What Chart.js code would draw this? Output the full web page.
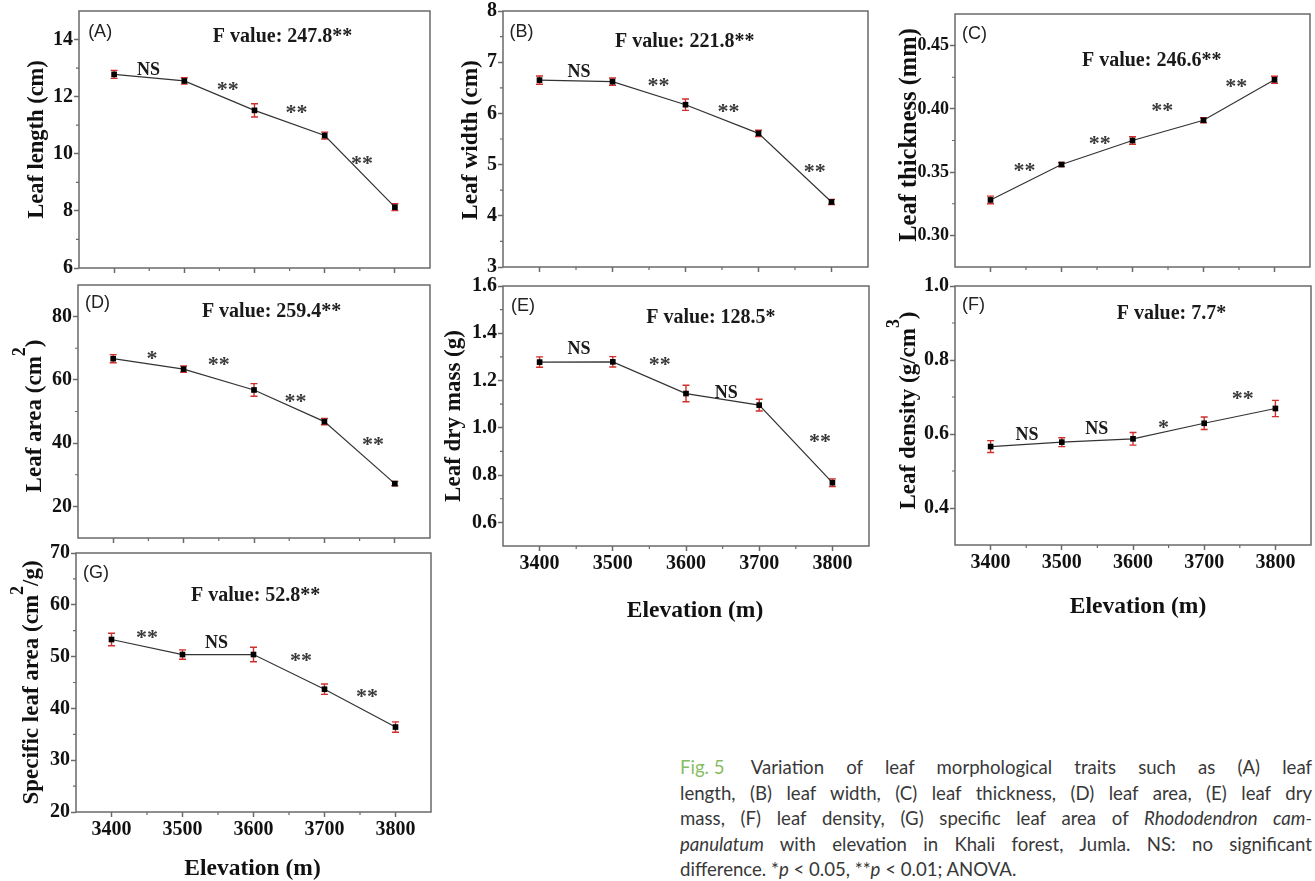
<!DOCTYPE html>
<html>
<head>
<meta charset="utf-8">
<script src="https://cdn.jsdelivr.net/npm/chart.js@4.4.1/dist/chart.umd.min.js"></script>
<style>
html,body{margin:0;padding:0;background:#fff;width:1315px;height:881px;overflow:hidden;position:relative}
canvas{position:absolute}
#cap{position:absolute;left:680px;top:755px;width:632px;font-family:Lato,"Open Sans",sans-serif;font-size:18.6px;line-height:25.5px;color:#383838}
#cap .ln{white-space:nowrap}
#cap .fig{color:#86bd62;word-spacing:0}
</style>
</head>
<body>
<div id="cap">
<div class="ln"><span class="fig">Fig. 5&nbsp;</span> Variation of leaf morphological traits such as (A) leaf</div>
<div class="ln">length, (B) leaf width, (C) leaf thickness, (D) leaf area, (E) leaf dry</div>
<div class="ln">mass, (F) leaf density, (G) specific leaf area of <i>Rhododendron cam-</i></div>
<div class="ln"><i>panulatum</i> with elevation in Khali forest, Jumla. NS: no significant</div>
<div class="ln last">difference. *<i>p</i> &lt; 0.05, **<i>p</i> &lt; 0.01; ANOVA.</div>
</div>
<script>
// ---------------- DATA ----------------
const elevation = [3400, 3500, 3600, 3700, 3800];
const xTickValues = [3400, 3500, 3600, 3700, 3800];
const xTickLabels = ['3400', '3500', '3600', '3700', '3800'];
const xMinorTicks = [3450, 3550, 3650, 3750];

const leafLength = [12.78, 12.55, 11.52, 10.64, 8.13];
const leafLengthErr = [0.14, 0.11, 0.23, 0.12, 0.12];
const leafLengthTicks = [6, 8, 10, 12, 14];
const leafLengthTickLabels = ['6', '8', '10', '12', '14'];
const leafLengthMinor = [7, 9, 11, 13];

const leafWidth = [6.65, 6.62, 6.17, 5.61, 4.27];
const leafWidthErr = [0.08, 0.07, 0.11, 0.06, 0.05];
const leafWidthTicks = [3, 4, 5, 6, 7, 8];
const leafWidthTickLabels = ['3', '4', '5', '6', '7', '8'];
const leafWidthMinor = [3.5, 4.5, 5.5, 6.5, 7.5];

const leafThickness = [0.328, 0.356, 0.375, 0.391, 0.423];
const leafThicknessErr = [0.003, 0.0016, 0.003, 0.002, 0.0028];
const leafThicknessTicks = [0.30, 0.35, 0.40, 0.45];
const leafThicknessTickLabels = ['0.30', '0.35', '0.40', '0.45'];
const leafThicknessMinor = [0.325, 0.375, 0.425];

const leafArea = [66.7, 63.4, 56.8, 46.8, 27.2];
const leafAreaErr = [1.3, 1.0, 2.0, 1.0, 0.7];
const leafAreaTicks = [20, 40, 60, 80];
const leafAreaTickLabels = ['20', '40', '60', '80'];
const leafAreaMinor = [30, 50, 70];

const leafDryMass = [1.278, 1.279, 1.145, 1.096, 0.768];
const leafDryMassErr = [0.022, 0.022, 0.035, 0.025, 0.016];
const leafDryMassTicks = [0.6, 0.8, 1.0, 1.2, 1.4, 1.6];
const leafDryMassTickLabels = ['0.6', '0.8', '1.0', '1.2', '1.4', '1.6'];
const leafDryMassMinor = [0.7, 0.9, 1.1, 1.3, 1.5];

const leafDensity = [0.566, 0.578, 0.587, 0.629, 0.669];
const leafDensityErr = [0.016, 0.012, 0.017, 0.017, 0.022];
const leafDensityTicks = [0.4, 0.6, 0.8, 1.0];
const leafDensityTickLabels = ['0.4', '0.6', '0.8', '1.0'];
const leafDensityMinor = [0.5, 0.7, 0.9];

const specificLeafArea = [53.3, 50.4, 50.4, 43.7, 36.4];
const specificLeafAreaErr = [1.2, 0.9, 1.4, 1.0, 1.0];
const slaTicks = [20, 30, 40, 50, 60, 70];
const slaTickLabels = ['20', '30', '40', '50', '60', '70'];
const slaMinor = [25, 35, 45, 55, 65];

// ---------------- STYLE / LAYOUT ----------------
const RED = '#d02f2b', AX = '#6a6a6a', LINE = '#333', TXT = '#111';
const SERIF = '"Liberation Serif","Times New Roman",serif';
const SANS = '"Liberation Sans",Arial,sans-serif';
const PT = 16, PR = 6;

const panels = [
  { area:{l:79,t:11,r:430,b:268}, cl:0, showX:false, ymin:6, ymax:15, yfs:20,
    values:leafLength, err:leafLengthErr, ticks:leafLengthTicks, labels:leafLengthTickLabels, minor:leafLengthMinor,
    title:[{t:'Leaf length (cm)'}], tdx:-36.3, tdy:0, tsize:22.5,
    notes:[{t:'(A)',x:3363,y:14.3,sans:true},{t:'F value: 247.8**',x:3640,y:14.13},{t:'NS',x:3449,y:12.98},
           {t:'**',x:3562,y:12.4},{t:'**',x:3660,y:11.58},{t:'**',x:3753,y:9.79}] },
  { area:{l:503,t:11,r:868,b:267}, cl:430, showX:false, ymin:3, ymax:8, yfs:20,
    values:leafWidth, err:leafWidthErr, ticks:leafWidthTicks, labels:leafWidthTickLabels, minor:leafWidthMinor,
    title:[{t:'Leaf width (cm)'}], tdx:-26, tdy:1, tsize:23.4,
    notes:[{t:'(B)',x:3359,y:7.61,sans:true},{t:'F value: 221.8**',x:3599,y:7.43},{t:'NS',x:3454,y:6.82},
           {t:'**',x:3563,y:6.62},{t:'**',x:3659,y:6.12},{t:'**',x:3777,y:4.95}] },
  { area:{l:955,t:14,r:1310,b:267}, cl:870, showX:false, ymin:0.275, ymax:0.475, yfs:18,
    values:leafThickness, err:leafThicknessErr, ticks:leafThicknessTicks, labels:leafThicknessTickLabels, minor:leafThicknessMinor,
    title:[{t:'Leaf thickness (mm)'}], tdx:-39, tdy:-5.5, tsize:24.5,
    notes:[{t:'(C)',x:3360,y:0.4607,sans:true},{t:'F value: 246.6**',x:3627,y:0.4394},
           {t:'**',x:3448,y:0.3545},{t:'**',x:3554,y:0.3757},{t:'**',x:3642,y:0.4017},{t:'**',x:3746,y:0.4209}] },
  { area:{l:78,t:285,r:430,b:538}, cl:0, showX:false, ymin:10, ymax:90, yfs:20,
    values:leafArea, err:leafAreaErr, ticks:leafAreaTicks, labels:leafAreaTickLabels, minor:leafAreaMinor,
    title:[{t:'Leaf area (cm'},{t:'2',sup:true},{t:')'}], tdx:-37.5, tdy:4.5, tsize:23,
    notes:[{t:'(D)',x:3360,y:84.75,sans:true},{t:'F value: 259.4**',x:3625,y:82.1},{t:'*',x:3455,y:67.9},
           {t:'**',x:3550,y:66.05},{t:'**',x:3659,y:54.3},{t:'**',x:3769,y:40.9}] },
  { area:{l:503,t:286,r:869,b:546}, cl:430, showX:true, ymin:0.5, ymax:1.6, yfs:20,
    values:leafDryMass, err:leafDryMassErr, ticks:leafDryMassTicks, labels:leafDryMassTickLabels, minor:leafDryMassMinor,
    title:[{t:'Leaf dry mass (g)'}], tdx:-42.7, tdy:0, tsize:23, xdx:9, xdy:70.7,
    notes:[{t:'(E)',x:3361,y:1.52,sans:true},{t:'F value: 128.5*',x:3634,y:1.473},{t:'NS',x:3454,y:1.336},
           {t:'**',x:3564,y:1.286},{t:'NS',x:3655,y:1.15},{t:'**',x:3783,y:0.961}] },
  { area:{l:955,t:286,r:1311,b:545}, cl:870, showX:true, ymin:0.3, ymax:1.0, yfs:20,
    values:leafDensity, err:leafDensityErr, ticks:leafDensityTicks, labels:leafDensityTickLabels, minor:leafDensityMinor,
    title:[{t:'Leaf density (g/cm'},{t:'3',sup:true},{t:')'}], tdx:-40, tdy:-5, tsize:23, xdx:5, xdy:68.3,
    notes:[{t:'(F)',x:3360,y:0.953,sans:true},{t:'F value: 7.7*',x:3654,y:0.93},{t:'NS',x:3451,y:0.601},
           {t:'NS',x:3549,y:0.615},{t:'*',x:3643,y:0.628},{t:'**',x:3754,y:0.708}] },
  { area:{l:76,t:553,r:431,b:812}, cl:0, showX:true, ymin:20, ymax:70, yfs:20,
    values:specificLeafArea, err:specificLeafAreaErr, ticks:slaTicks, labels:slaTickLabels, minor:slaMinor,
    title:[{t:'Specific leaf area (cm'},{t:'2',sup:true},{t:'/g)'}], tdx:-37.7, tdy:0, tsize:23, xdx:-1, xdy:63,
    notes:[{t:'(G)',x:3360,y:66.4,sans:true},{t:'F value: 52.8**',x:3603,y:62.1},{t:'**',x:3450,y:54.4},
           {t:'NS',x:3548,y:52.9},{t:'**',x:3667,y:50.0},{t:'**',x:3760,y:43.0}] }
];

function makePlugin(p) {
  return {
    id: 'panelDeco',
    beforeDatasetsDraw(chart) {
      const ctx = chart.ctx, xs = chart.scales.x, ys = chart.scales.y;
      ctx.save();
      ctx.strokeStyle = RED; ctx.lineWidth = 1.4;
      p.values.forEach((v, i) => {
        const x = xs.getPixelForValue(elevation[i]);
        const yt = ys.getPixelForValue(v + p.err[i]), yb = ys.getPixelForValue(v - p.err[i]);
        ctx.beginPath();
        ctx.moveTo(x, yt); ctx.lineTo(x, yb);
        ctx.moveTo(x - 3.5, yt); ctx.lineTo(x + 3.5, yt);
        ctx.moveTo(x - 3.5, yb); ctx.lineTo(x + 3.5, yb);
        ctx.stroke();
      });
      ctx.restore();
    },
    afterDraw(chart) {
      const ctx = chart.ctx, xs = chart.scales.x, ys = chart.scales.y, a = chart.chartArea;
      ctx.save();
      ctx.strokeStyle = AX; ctx.lineWidth = 1.5;
      ctx.strokeRect(a.left, a.top, a.right - a.left, a.bottom - a.top);
      ctx.lineWidth = 1.2;
      ctx.beginPath();
      xMinorTicks.forEach(v => { const x = xs.getPixelForValue(v); ctx.moveTo(x, a.bottom); ctx.lineTo(x, a.bottom + 3); });
      p.minor.forEach(v => { const y = ys.getPixelForValue(v); ctx.moveTo(a.left, y); ctx.lineTo(a.left - 3, y); });
      ctx.stroke();
      const size = p.tsize;
      const mainF = `bold ${size}px ${SERIF}`, supF = `bold ${(size * 0.78).toFixed(1)}px ${SERIF}`;
      let total = 0;
      p.title.forEach(t => { ctx.font = t.sup ? supF : mainF; t.w = ctx.measureText(t.t).width; total += t.w; });
      ctx.save();
      ctx.translate(a.left + p.tdx, (a.top + a.bottom) / 2 + p.tdy);
      ctx.rotate(-Math.PI / 2);
      ctx.fillStyle = TXT; ctx.textAlign = 'left'; ctx.textBaseline = 'alphabetic';
      let tx = -total / 2;
      p.title.forEach(t => { ctx.font = t.sup ? supF : mainF; ctx.fillText(t.t, tx, t.sup ? -size * 0.68 : 0); tx += t.w; });
      ctx.restore();
      if (p.showX) {
        ctx.font = `bold 23.5px ${SERIF}`;
        ctx.fillStyle = TXT; ctx.textAlign = 'center'; ctx.textBaseline = 'alphabetic';
        ctx.fillText('Elevation (m)', (a.left + a.right) / 2 + p.xdx, a.bottom + p.xdy);
      }
      p.notes.forEach(n => {
        const x = xs.getPixelForValue(n.x), y = ys.getPixelForValue(n.y);
        ctx.textBaseline = 'alphabetic';
        if (n.sans) {
          ctx.font = `18px ${SANS}`; ctx.fillStyle = '#222'; ctx.textAlign = 'left';
          ctx.fillText(n.t, x, y + 0.36 * 18);
        } else if (/^\*+$/.test(n.t)) {
          ctx.font = `bold 22px ${SERIF}`; ctx.fillStyle = '#3a3a3a'; ctx.textAlign = 'center';
          ctx.fillText(n.t, x, y + 0.48 * 22);
        } else {
          const fs = n.t.startsWith('F') ? 20 : 18;
          ctx.font = `bold ${fs}px ${SERIF}`; ctx.fillStyle = '#1a1a1a'; ctx.textAlign = 'center';
          ctx.fillText(n.t, x, y + 0.33 * fs);
        }
      });
      ctx.restore();
    }
  };
}

panels.forEach(p => {
  const A = p.area;
  const ML = A.l - p.cl;
  const MB = p.showX ? 80 : 14;
  const W = ML + (A.r - A.l) + PR;
  const H = PT + (A.b - A.t) + MB;
  const cv = document.createElement('canvas');
  cv.width = W; cv.height = H;
  cv.style.width = W + 'px'; cv.style.height = H + 'px';
  cv.style.left = p.cl + 'px'; cv.style.top = (A.t - PT) + 'px';
  document.body.appendChild(cv);
  const xFont = { family: SERIF, weight: 'bold', size: 20, lineHeight: 1.1 };
  const yFont = { family: SERIF, weight: 'bold', size: p.yfs, lineHeight: 1.1 };
  new Chart(cv, {
    type: 'line',
    data: {
      datasets: [{
        data: elevation.map((x, i) => ({ x: x, y: p.values[i] })),
        borderColor: LINE, borderWidth: 1.2,
        pointStyle: 'rect', pointRadius: 4, pointBackgroundColor: '#000',
        pointBorderColor: '#000', pointBorderWidth: 0, tension: 0
      }]
    },
    options: {
      responsive: false, animation: false, events: [],
      devicePixelRatio: 1,
      layout: { padding: { top: PT, right: PR, left: 0, bottom: 0 } },
      plugins: { legend: { display: false }, tooltip: { enabled: false } },
      scales: {
        x: {
          type: 'linear', min: 3350, max: 3850,
          afterBuildTicks: s => { s.ticks = xTickValues.map(v => ({ value: v })); },
          afterFit: s => { s.height = MB; },
          ticks: { display: p.showX, callback: (v, i) => xTickLabels[i], font: xFont, color: TXT,
                   padding: 2, maxRotation: 0, autoSkip: false },
          grid: { drawOnChartArea: false, drawTicks: true, tickLength: 5, tickColor: AX, tickWidth: 1.5 },
          border: { display: false }
        },
        y: {
          type: 'linear', min: p.ymin, max: p.ymax,
          afterBuildTicks: s => { s.ticks = p.ticks.map(v => ({ value: v })); },
          afterFit: s => { s.width = ML; },
          ticks: { callback: (v, i) => p.labels[i], font: yFont, color: TXT, padding: 1, autoSkip: false },
          grid: { drawOnChartArea: false, drawTicks: true, tickLength: 5, tickColor: AX, tickWidth: 1.5 },
          border: { display: false }
        }
      }
    },
    plugins: [makePlugin(p)]
  });
});

// justify caption lines to the column width via word spacing
(function () {
  const W = 632;
  document.querySelectorAll('#cap .ln').forEach(el => {
    if (el.classList.contains('last')) return;
    const span = document.createElement('span');
    while (el.firstChild) span.appendChild(el.firstChild);
    el.appendChild(span);
    const natural = span.getBoundingClientRect().width;
    let spaces = (el.textContent.match(/[ \u00a0]/g) || []).length;
    el.querySelectorAll('.fig').forEach(f => { spaces -= (f.textContent.match(/[ \u00a0]/g) || []).length; });
    if (spaces > 0) el.style.wordSpacing = ((W - natural) / spaces).toFixed(3) + 'px';
  });
})();
</script>
</body>
</html>
